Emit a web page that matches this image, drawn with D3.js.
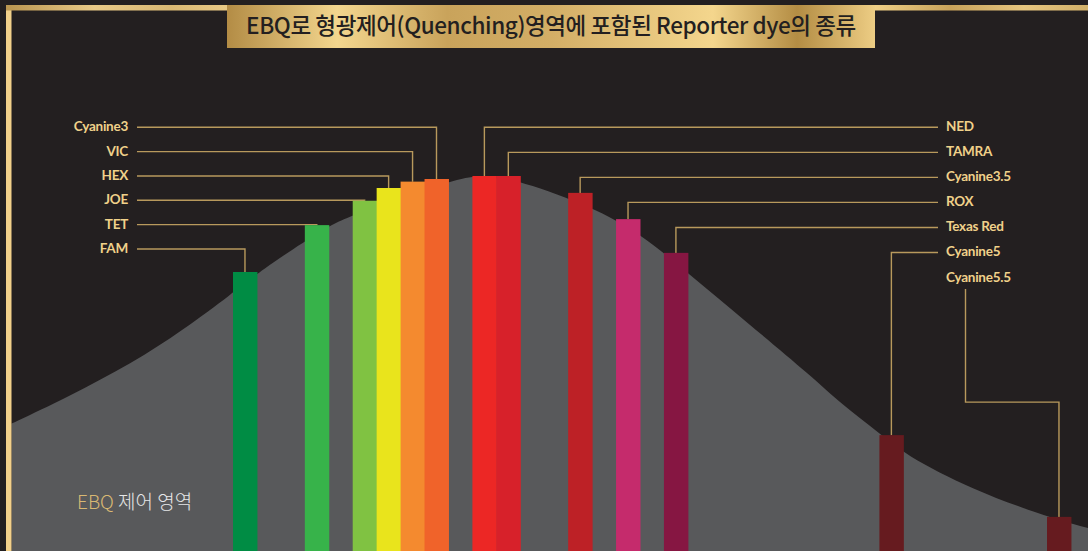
<!DOCTYPE html>
<html>
<head>
<meta charset="utf-8">
<script src="https://cdn.jsdelivr.net/npm/d3@7"></script>
<style>
  html, body { margin: 0; padding: 0; background: #231f20; overflow: hidden; }
  svg { display: block; }
</style>
</head>
<body>
<svg id="chart" width="1088" height="551"></svg>
<script>
// dyes, left to right along the spectrum
const dyes = ["FAM", "TET", "JOE", "HEX", "VIC", "Cyanine3", "NED", "TAMRA", "Cyanine3.5", "ROX", "Texas Red", "Cyanine5", "Cyanine5.5"];
// position of each bar (bar slots)
const slots = [0, 3, 5, 6, 7, 8, 10, 11, 14, 16, 18, 27, 34];
// relative signal (peak = 100)
const signal = [74.4, 86.9, 93.4, 96.8, 98.5, 99.2, 100, 100, 95.5, 88.5, 79.5, 30.9, 9.1];
const dyeColors = ["#008c44", "#37b34a", "#80c242", "#e9e41c", "#f48a2f", "#f0632a", "#ec2725", "#d7212a", "#bd2126", "#c52b6c", "#861642", "#661b1f", "#661b1f"];
// label column + row for each dye
const labelSide = ["L", "L", "L", "L", "L", "L", "R", "R", "R", "R", "R", "R", "R"];
const labelRow = [5, 4, 3, 2, 1, 0, 0, 1, 2, 3, 4, 5, 6];

// EBQ quenching region curve
const regionX = [-10, -9.2, -6.9, -4.2, -2.1, 0, 1, 4, 5, 9.5, 10.3, 12, 15, 17, 19, 21.5, 24.2, 25.4, 27, 28, 30.9, 34, 35.7, 36.5];
const regionY = [31.8, 34.1, 41.1, 50.1, 58.9, 68.8, 74.1, 86.9, 89.6, 99.7, 100, 98.9, 91.7, 84.8, 74.1, 60.8, 46.4, 39.2, 31.5, 25.9, 16.3, 9.1, 6.1, 4.8];

const titleText = "EBQ로 형광제어(Quenching)영역에 포함된 Reporter dye의 종류";

const W = 1088, H = 551;
const svg = d3.select("#chart");

const x = d3.scaleLinear().domain([0, 34]).range([233, 1047]);
const y = d3.scaleLinear().domain([0, 100]).range([H, 176]);
const unit = x(1) - x(0);
const rowL = d3.scaleLinear().domain([0, 5]).range([127.3, 249]);
const rowR = d3.scaleLinear().domain([0, 6]).range([127.3, 277.5]);

const defs = svg.append("defs");

// gold gradients
const goldStops = (id, x1, x2, stops) => {
  const g = defs.append("linearGradient").attr("id", id)
    .attr("gradientUnits", "userSpaceOnUse")
    .attr("x1", x1).attr("x2", x2).attr("y1", 0).attr("y2", 0);
  stops.forEach(s => g.append("stop").attr("offset", s[0]).attr("stop-color", s[1]));
};
goldStops("goldTitle", 227, 875, [
  [0, "#b38c45"], [0.17, "#f3d68e"], [0.34, "#c9a35b"], [0.5, "#d3ae66"],
  [0.75, "#f4d68d"], [0.88, "#b48d44"], [1, "#edcd84"]
]);
goldStops("goldLeft", 6, 227, [
  [0, "#b99550"], [0.4, "#e8c987"], [0.75, "#d9b873"], [1, "#e9c985"]
]);
goldStops("goldRight", 875, 1088, [
  [0, "#efcf86"], [0.35, "#c8a25a"], [0.7, "#e6c57f"], [1, "#d2b069"]
]);

defs.append("clipPath").attr("id", "inner")
  .append("rect").attr("x", 11.5).attr("y", 10.5).attr("width", W).attr("height", H);

// background
svg.append("rect").attr("width", W).attr("height", H).attr("fill", "#231f20");

// quenching region
const area = d3.area()
  .x((d, i) => x(regionX[i]))
  .y0(H + 5)
  .y1((d, i) => y(regionY[i]))
  .curve(d3.curveBasis);

svg.append("path")
  .datum(regionX)
  .attr("d", area)
  .attr("fill", "#58595b")
  .attr("clip-path", "url(#inner)");

// leader lines
const lines = svg.append("g")
  .attr("fill", "none")
  .attr("stroke", "#b8995c")
  .attr("stroke-width", 1.4);

dyes.forEach((d, i) => {
  const cx = x(slots[i]) + unit / 2;
  const top = y(signal[i]);
  let p;
  if (labelSide[i] === "L") {
    const ry = rowL(labelRow[i]);
    p = `M137,${ry}H${cx}V${top}`;
  } else if (labelRow[i] === 6) {
    // last label sits under the column, line drops from below the text
    p = `M965.5,289V${y(39.7)}H${cx}V${top}`;
  } else {
    const ry = rowR(labelRow[i]);
    p = `M938,${ry}H${cx}V${top}`;
  }
  lines.append("path").attr("d", p);
});

// bars
svg.append("g").selectAll("rect")
  .data(dyes)
  .join("rect")
  .attr("x", (d, i) => x(slots[i]))
  .attr("y", (d, i) => y(signal[i]))
  .attr("width", unit + 0.5)
  .attr("height", (d, i) => H - y(signal[i]))
  .attr("fill", (d, i) => dyeColors[i]);

// labels
svg.append("g").selectAll("text")
  .data(dyes)
  .join("text")
  .attr("x", (d, i) => labelSide[i] === "L" ? 128 : 946)
  .attr("y", (d, i) => (labelSide[i] === "L" ? rowL(labelRow[i]) : rowR(labelRow[i])) + 4)
  .attr("text-anchor", (d, i) => labelSide[i] === "L" ? "end" : "start")
  .attr("font-family", "Lato, 'Open Sans', sans-serif")
  .attr("font-weight", 700)
  .attr("font-size", 13.5)
  .attr("letter-spacing", -0.25)
  .attr("fill", "#f0d18a")
  .text(d => d);

// frame
svg.append("rect").attr("x", 6).attr("y", 5).attr("width", 5.5).attr("height", H).attr("fill", "#f2d08a");
svg.append("rect").attr("x", 6).attr("y", 5).attr("width", 221).attr("height", 5.5).attr("fill", "url(#goldLeft)");
svg.append("rect").attr("x", 875).attr("y", 5).attr("width", 213).attr("height", 5.5).attr("fill", "url(#goldRight)");

// title box
svg.append("rect").attr("x", 227).attr("y", 5).attr("width", 648).attr("height", 43).attr("fill", "url(#goldTitle)");
svg.append("text")
  .attr("x", 551).attr("y", 34)
  .attr("text-anchor", "middle")
  .attr("font-family", "'Noto Sans CJK KR', sans-serif")
  .attr("font-weight", 500)
  .attr("font-size", 22.5)
  .attr("letter-spacing", -0.4)
  .attr("fill", "#231f20")
  .text(titleText);

// region caption
const cap = svg.append("text")
  .attr("x", 77).attr("y", 509)
  .attr("font-family", "'Noto Sans CJK KR', sans-serif")
  .attr("font-weight", 300)
  .attr("font-size", 19);
cap.append("tspan").attr("fill", "#d8b873").text("EBQ ");
cap.append("tspan").attr("fill", "#e6e7e8").text("제어 영역");
</script>
</body>
</html>
